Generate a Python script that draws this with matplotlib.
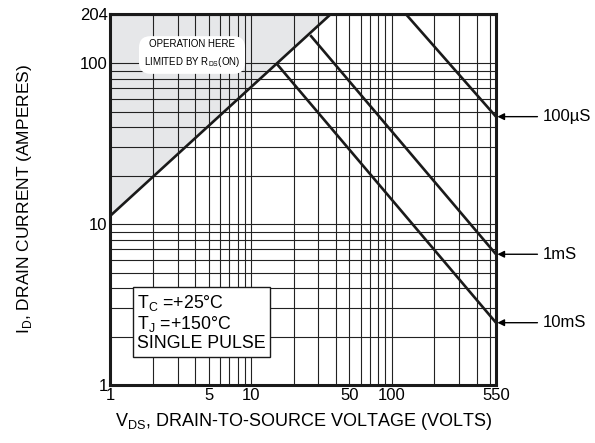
import matplotlib
matplotlib.use("Agg")
import matplotlib.pyplot as plt
from matplotlib.ticker import FixedLocator, NullFormatter, NullLocator

plt.rcParams['font.family'] = ['Liberation Sans', 'DejaVu Sans']

# R_DS(on) limit line (V, I)
rds_v = [1, 37.2]
rds_i = [11.3, 204]

# pulse-width limit lines (start on limit / top, end at 550 V)
pulse_names = ['100µS', '1mS', '10mS']
pulse_v = [[124.7, 550], [26.3, 550], [15.3, 550]]
pulse_i = [[204, 46.6], [149.6, 6.5], [98.6, 2.44]]

x_ticks = [1, 5, 10, 50, 100, 550]
y_ticks = [1, 10, 100, 204]

fig = plt.figure(figsize=(5.95, 4.43), dpi=100)
ax = fig.add_axes([0.1857, 0.1309, 0.6479, 0.8386])
ax.set_xscale('log')
ax.set_yscale('log')
ax.set_xlim(1, 550)
ax.set_ylim(1, 204)

# grid
xg = [m * 10**d for d in range(0, 3) for m in range(1, 10)]
xg = [g for g in xg if 1 < g < 550]
yg = [m * 10**d for d in range(0, 3) for m in range(1, 10)]
yg = [g for g in yg if 1 < g < 204]
for g in xg:
    ax.axvline(g, color='#222222', lw=0.8, zorder=1)
for g in yg:
    ax.axhline(g, color='#222222', lw=0.8, zorder=1)

# shaded R_DS region
ax.fill_between(rds_v, rds_i, [204, 204], color='#e6e7e9', zorder=0.5, lw=0)
ax.plot(rds_v, rds_i, color='#1a1a1a', lw=1.9, zorder=3, solid_capstyle='butt')

for name, v, i in zip(pulse_names, pulse_v, pulse_i):
    ax.plot(v, i, color='#1a1a1a', lw=1.9, zorder=3, solid_capstyle='butt')
    ax.annotate(name, xy=(v[1], i[1]), xycoords='data',
                xytext=(543, i[1]), textcoords=('figure pixels', 'data'),
                fontsize=12, va='center', ha='left',
                arrowprops=dict(arrowstyle='-|>', color='black', lw=1.0,
                                mutation_scale=10, shrinkA=2, shrinkB=1),
                annotation_clip=False)

ax.xaxis.set_major_locator(FixedLocator(x_ticks))
ax.xaxis.set_minor_locator(NullLocator())
ax.xaxis.set_minor_formatter(NullFormatter())
ax.set_xticklabels([str(t) for t in x_ticks])
ax.yaxis.set_major_locator(FixedLocator(y_ticks))
ax.yaxis.set_minor_locator(NullLocator())
ax.yaxis.set_minor_formatter(NullFormatter())
ax.set_yticklabels([str(t) for t in y_ticks])
ax.tick_params(length=0, labelsize=12, pad=2)

for s in ax.spines.values():
    s.set_linewidth(2.2)
    s.set_color('#1a1a1a')
    s.set_zorder(5)

ax.set_xlabel('V$_{\\mathregular{DS}}$, DRAIN-TO-SOURCE VOLTAGE (VOLTS)',
              fontsize=13, labelpad=6)
ax.set_ylabel('I$_{\\mathregular{D}}$, DRAIN CURRENT (AMPERES)',
              fontsize=12.5, labelpad=33)

# small white note in shaded area (display pixels, origin bottom-left)
ax.text(192, 443 - 54, 'OPERATION HERE\nLIMITED BY R$_{\\mathregular{DS}}$(ON)',
        transform=None, fontsize=7, ha='center', va='center',
        linespacing=1.6, zorder=6,
        bbox=dict(boxstyle='round,pad=0.5,rounding_size=1.2', fc='white', ec='none'))

ax.text(0.069, 0.168, 'T$_{\\mathregular{C}}$ =+25°C\nT$_{\\mathregular{J}}$ =+150°C\nSINGLE PULSE',
        transform=ax.transAxes, fontsize=12.8, ha='left', va='center',
        linespacing=1.1, zorder=6,
        bbox=dict(boxstyle='square,pad=0.25', fc='white', ec='#1a1a1a', lw=1.0))

fig.savefig('out.png', dpi=100)
